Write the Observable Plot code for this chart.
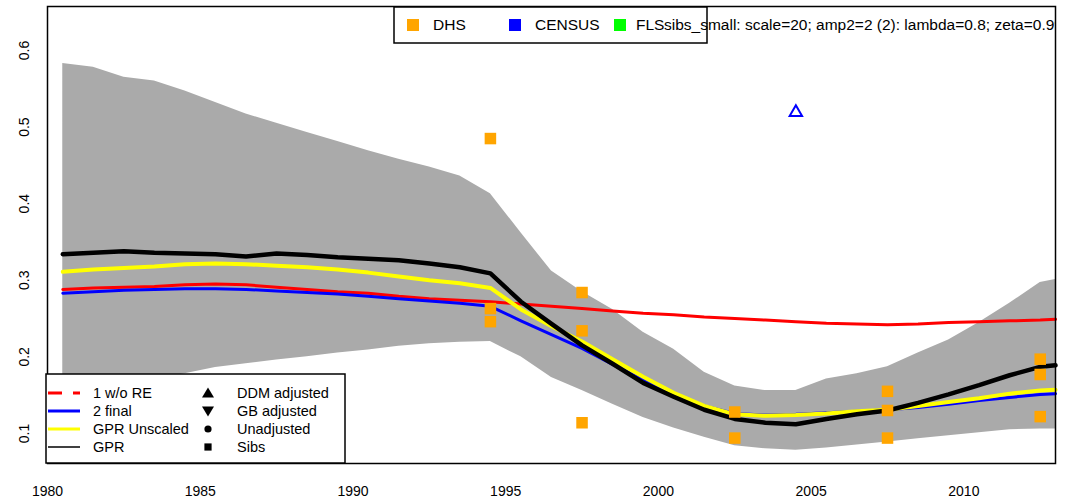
<!DOCTYPE html>
<html><head><meta charset="utf-8">
<script src="https://cdn.jsdelivr.net/npm/d3@7"></script>
<script src="https://cdn.jsdelivr.net/npm/@observablehq/plot@0.6"></script>
<style>
html,body{margin:0;padding:0;background:#fff;}
#chart svg{font-family:"Liberation Sans",Arial,sans-serif;}
</style></head><body><div id="chart"></div>
<script>
// ---- data ----
const years = [1980.5,1981.5,1982.5,1983.5,1984.5,1985.5,1986.5,1987.5,1988.5,1989.5,1990.5,1991.5,1992.5,1993.5,1994.5,1995.5,1996.5,1997.5,1998.5,1999.5,2000.5,2001.5,2002.5,2003.5,2004.5,2005.5,2006.5,2007.5,2008.5,2009.5,2010.5,2011.5,2012.5,2013];
const bandUpper = [0.583,0.578,0.565,0.560,0.547,0.532,0.517,0.505,0.493,0.481,0.469,0.458,0.448,0.436,0.413,0.362,0.312,0.285,0.262,0.232,0.210,0.180,0.162,0.156,0.156,0.171,0.178,0.187,0.205,0.222,0.245,0.270,0.297,0.301];
const bandLower = [0.150,0.157,0.164,0.170,0.178,0.186,0.191,0.196,0.200,0.205,0.209,0.214,0.217,0.219,0.220,0.200,0.173,0.156,0.138,0.121,0.107,0.095,0.084,0.080,0.078,0.081,0.085,0.089,0.093,0.097,0.101,0.105,0.106,0.106];
const woRE = [0.288,0.290,0.291,0.292,0.294,0.295,0.294,0.291,0.288,0.285,0.283,0.279,0.276,0.274,0.272,0.269,0.266,0.263,0.260,0.257,0.255,0.252,0.250,0.248,0.246,0.244,0.243,0.242,0.243,0.245,0.246,0.247,0.248,0.249];
const final2 = [0.283,0.285,0.287,0.288,0.289,0.289,0.288,0.286,0.284,0.282,0.279,0.276,0.273,0.270,0.266,0.247,0.229,0.211,0.190,0.170,0.152,0.136,0.126,0.124,0.125,0.127,0.129,0.131,0.134,0.138,0.143,0.147,0.151,0.152];
const gprUnscaled = [0.311,0.314,0.316,0.318,0.321,0.322,0.321,0.319,0.317,0.314,0.310,0.305,0.300,0.296,0.290,0.262,0.240,0.220,0.197,0.174,0.153,0.136,0.125,0.123,0.124,0.126,0.129,0.131,0.136,0.141,0.146,0.152,0.156,0.157];
const gpr = [0.334,0.336,0.338,0.336,0.335,0.334,0.331,0.335,0.333,0.330,0.328,0.326,0.322,0.317,0.309,0.272,0.243,0.215,0.191,0.166,0.148,0.131,0.119,0.114,0.112,0.119,0.125,0.130,0.140,0.151,0.163,0.176,0.187,0.189];
const dhsYears = [1994.5,1994.5,1994.5,1997.5,1997.5,1997.5,2002.5,2002.5,2007.5,2007.5,2007.5,2012.5,2012.5,2012.5];
const dhsValues = [0.485,0.263,0.246,0.284,0.234,0.114,0.128,0.094,0.155,0.130,0.094,0.197,0.177,0.122];
const censusYears = [2004.5];
const censusValues = [0.519];
const xTicks = [1980,1985,1990,1995,2000,2005,2010];
const yTicks = [0.1,0.2,0.3,0.4,0.5,0.6];
const topLegend = [{label:"DHS",color:"orange"},{label:"CENSUS",color:"blue"},{label:"FLS",color:"#00ff00"}];
const titleText = "sibs_small: scale=20; amp2=2 (2): lambda=0.8; zeta=0.99";
const lineLegend = [{label:"1 w/o RE",color:"red",dash:"14,11",w:3},{label:"2 final",color:"blue",dash:null,w:3},{label:"GPR Unscaled",color:"yellow",dash:null,w:3},{label:"GPR",color:"black",dash:null,w:1.5}];
const symbolLegend = [{label:"DDM adjusted",sym:"up"},{label:"GB adjusted",sym:"down"},{label:"Unadjusted",sym:"circle"},{label:"Sibs",sym:"square"}];

// ---- tables built from the arrays ----
const rows = years.map((year,i)=>({year, upper:bandUpper[i], lower:bandLower[i], woRE:woRE[i], final2:final2[i], unscaled:gprUnscaled[i], gpr:gpr[i]}));
const dhs = dhsYears.map((year,i)=>({year, value:dhsValues[i]}));
const census = censusYears.map((year,i)=>({year, value:censusValues[i]}));

const W = 1068, H = 500;
const plot = Plot.plot({
  width: W, height: H,
  marginLeft: 47, marginRight: 13, marginTop: 6, marginBottom: 37,
  style: {fontFamily: '"Liberation Sans",Arial,sans-serif', fontSize: "14px", color: "black", background: "white", overflow: "visible"},
  x: {domain: [1980, 2013], label: null},
  y: {domain: [0.0608, 0.6574], label: null},
  marks: [
    Plot.areaY(rows, {x: "year", y1: "lower", y2: "upper", fill: "#aaaaaa"}),
    Plot.line(rows, {x: "year", y: "woRE", stroke: "#ff0000", strokeWidth: 3}),
    Plot.line(rows, {x: "year", y: "final2", stroke: "#0000ff", strokeWidth: 3}),
    Plot.line(rows, {x: "year", y: "unscaled", stroke: "#ffff00", strokeWidth: 4}),
    Plot.line(rows, {x: "year", y: "gpr", stroke: "#000000", strokeWidth: 4.5}),
    Plot.dot(dhs, {x: "year", y: "value", symbol: "square", r: 6.5, fill: "orange", stroke: "none"}),
    Plot.dot(census, {x: "year", y: "value", symbol: "triangle", r: 4.6, fill: "none", stroke: "blue", strokeWidth: 2}),
    Plot.axisX({ticks: xTicks, tickSize: 0, tickPadding: 23, tickFormat: d => String(d), fontSize: 14, label: null}),
    Plot.axisY({ticks: yTicks, tickSize: 0, tickPadding: 19, tickRotate: -90, textAnchor: "middle", lineAnchor: "bottom", tickFormat: d => d.toFixed(1), fontSize: 14, label: null}),
    Plot.frame({stroke: "black", strokeWidth: 1.5})
  ]
});
document.getElementById("chart").appendChild(plot);

// ---- legends drawn into the same svg ----
const svg = d3.select(plot);
const font = '"Liberation Sans",Arial,sans-serif';
svg.append("defs").append("clipPath").attr("id","clipTitle").append("rect").attr("x",0).attr("y",0).attr("width",1055).attr("height",60);

function txt(g, x, y, s, size) {
  return g.append("text").attr("x",x).attr("y",y).attr("dy","0.35em").attr("text-anchor","start")
    .attr("font-family",font).attr("font-size",size || 14).attr("fill","black").text(s);
}

// top legend
const tl = svg.append("g");
tl.append("rect").attr("x",394).attr("y",7).attr("width",313).attr("height",36).attr("fill","white").attr("stroke","black").attr("stroke-width",1.5);
const tlX = [413, 515, 620];
const tlTX = [433, 535, 636];
topLegend.forEach((d,i)=>{
  tl.append("rect").attr("x",tlX[i]-6).attr("y",25-6).attr("width",12).attr("height",12).attr("fill",d.color);
  txt(tl, tlTX[i], 25, d.label, 15.5);
});
txt(svg, 664, 25, titleText, 15.5).attr("clip-path","url(#clipTitle)");

// bottom-left legend
const bl = svg.append("g");
bl.append("rect").attr("x",46).attr("y",374).attr("width",299).attr("height",89).attr("fill","white").attr("stroke","black").attr("stroke-width",1.5);
const rowY = [393, 411, 429, 447];
lineLegend.forEach((d,i)=>{
  const ln = bl.append("line").attr("x1",48).attr("x2",80).attr("y1",rowY[i]).attr("y2",rowY[i]).attr("stroke",d.color).attr("stroke-width",d.w);
  if (d.dash) ln.attr("stroke-dasharray",d.dash);
  txt(bl, 93, rowY[i], d.label, 14.5);
});
symbolLegend.forEach((d,i)=>{
  const cx = 208, cy = rowY[i];
  if (d.sym==="up") bl.append("path").attr("d",`M${cx-6},${cy+4.5}L${cx+6},${cy+4.5}L${cx},${cy-5.5}Z`).attr("fill","black");
  else if (d.sym==="down") bl.append("path").attr("d",`M${cx-6},${cy-4.5}L${cx+6},${cy-4.5}L${cx},${cy+5.5}Z`).attr("fill","black");
  else if (d.sym==="circle") bl.append("circle").attr("cx",cx).attr("cy",cy).attr("r",3.6).attr("fill","black");
  else bl.append("rect").attr("x",cx-3.6).attr("y",cy-3.6).attr("width",7.2).attr("height",7.2).attr("fill","black");
  txt(bl, 237, rowY[i], d.label, 14.5);
});
</script>
</body></html>
